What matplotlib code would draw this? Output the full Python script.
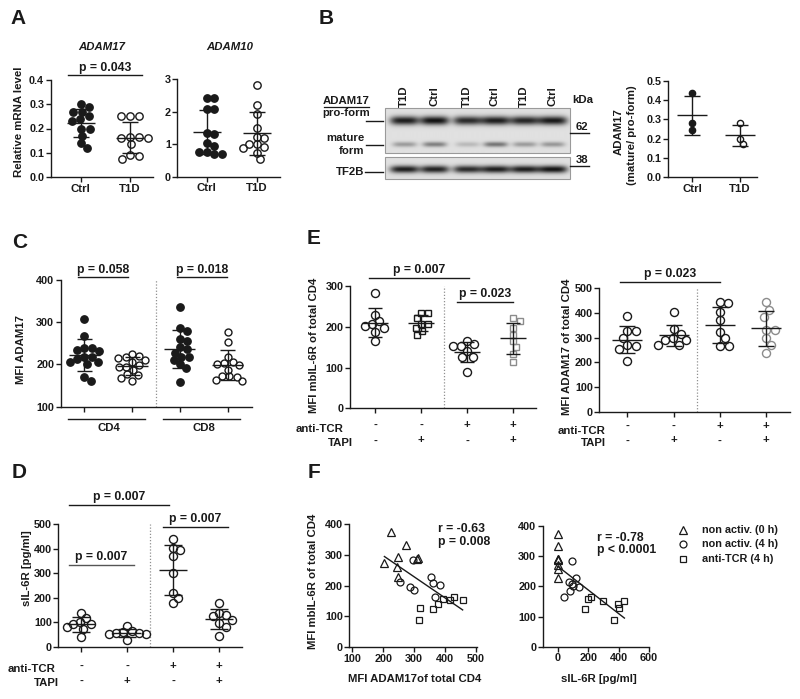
import numpy as np
import matplotlib
matplotlib.use('Agg')
import matplotlib.pyplot as plt
from matplotlib.patches import Rectangle
from matplotlib.transforms import blended_transform_factory as btf

# ---------------- data ----------------
groups_ct = ['Ctrl', 'T1D']
# A: relative mRNA
a17_ctrl = [0.30, 0.29, 0.27, 0.27, 0.25, 0.24, 0.23, 0.20, 0.20, 0.17, 0.14, 0.12]
a17_t1d = [0.25, 0.25, 0.25, 0.165, 0.165, 0.16, 0.16, 0.135, 0.09, 0.085, 0.075]
a10_ctrl = [2.42, 2.42, 2.07, 2.09, 1.30, 1.33, 1.04, 0.95, 0.76, 0.70, 0.70, 0.76]
a10_t1d = [2.81, 2.20, 1.94, 1.51, 1.20, 1.23, 1.00, 1.00, 0.90, 0.87, 0.74, 0.53]
# B: mature / pro-form ratio
b_ctrl = [0.435, 0.245, 0.283]
b_t1d = [0.279, 0.200, 0.172]
blot_lanes = ['T1D', 'Ctrl', 'T1D', 'Ctrl', 'T1D', 'Ctrl']
pro_int = [0.90, 0.95, 0.84, 0.90, 0.86, 0.92]
mature_int = [0.32, 0.45, 0.18, 0.50, 0.32, 0.34]
tf2b_int = [0.90, 0.88, 0.84, 0.90, 0.90, 0.95]
# C: MFI ADAM17
c_cd4_ctrl = [308, 268, 240, 234, 233, 240, 217, 212, 217, 206, 201, 206, 161, 170]
c_cd4_t1d = [225, 220, 218, 215, 211, 205, 198, 195, 187, 177, 175, 167, 160, 195]
c_cd8_ctrl = [337, 280, 286, 256, 260, 236, 242, 228, 217, 217, 200, 211, 191, 158]
c_cd8_t1d = [278, 253, 217, 201, 198, 203, 205, 188, 172, 163, 170, 172, 160]
# paired samples (n=8): non activ 0 h, non activ 4 h, anti-TCR 4 h
tri_mbil = [373, 333, 292, 290, 288, 272, 259, 228]
tri_adam17 = [227, 274, 248, 312, 310, 204, 245, 247]
tri_sil = [0, 0, 0, 0, 0, 0, 0, 0]
circ_mbil = [284, 229, 213, 208, 202, 197, 186, 164]
circ_adam17 = [296, 356, 254, 361, 385, 288, 299, 369]
circ_sil = [93, 116, 71, 93, 100, 138, 82, 38]
sq_mbil = [158, 164, 125, 152, 140, 127, 152, 88]
sq_adam17 = [394, 430, 361, 417, 377, 320, 458, 315]
sq_sil = [198, 220, 178, 300, 393, 404, 438, 371]
# D: sIL-6R (4 conditions)
d_tapi = [86, 65, 60, 55, 55, 52, 50, 28]
d_tcr_tapi = [177, 136, 129, 127, 110, 95, 82, 45]
# E: mbIL-6R and ADAM17 of total CD4
e_mbil_tapi = [233, 233, 221, 208, 208, 197, 190, 180]
e_mbil_tcr_tapi = [221, 215, 196, 180, 164, 150, 133, 114]
e_adam17_ctrl = [389, 328, 328, 300, 266, 270, 255, 204]
e_adam17_tapi = [405, 315, 334, 290, 297, 290, 270, 272]
e_adam17_tcr = [443, 439, 405, 372, 324, 297, 266, 266]
e_adam17_tcr_tapi = [443, 412, 385, 331, 330, 297, 270, 239]
anti_tcr = ['-', '-', '+', '+']
tapi = ['-', '+', '-', '+']
legend_labels = ['non activ. (0 h)', 'non activ. (4 h)', 'anti-TCR (4 h)']

# ---------------- style ----------------
plt.rcParams['font.family'] = ['Liberation Sans', 'DejaVu Sans']
plt.rcParams['font.weight'] = 'bold'
W, H = 800, 699
K = '#1a1a1a'
GREY = '#8c8c8c'
FS_T = 7.8
FS_L = 8.2
FS_P = 8.8

fig = plt.figure(figsize=(W / 100, H / 100), dpi=100)
ov = fig.add_axes([0, 0, 1, 1], zorder=20)
ov.axis('off')
ov.patch.set_alpha(0)

def T(x, y, s, **kw):
    kw.setdefault('ha', 'center')
    kw.setdefault('va', 'center')
    kw.setdefault('fontsize', FS_L)
    kw.setdefault('color', K)
    ov.text(x, y, s, **kw)

INFO = {}

def mk(left, right, top, bottom, ylim, x0=None, dx=None, xlim=None):
    if xlim is None:
        xlim = ((left - x0) / dx, (right - x0) / dx)
    ax = fig.add_axes([left / W, 1 - bottom / H, (right - left) / W, (bottom - top) / H])
    ax.set_xlim(*xlim)
    ax.set_ylim(*ylim)
    ax.patch.set_alpha(0)
    for s in ('top', 'right'):
        ax.spines[s].set_visible(False)
    for s in ('left', 'bottom'):
        ax.spines[s].set_color(K)
        ax.spines[s].set_linewidth(1.0)
    ax.tick_params(direction='out', length=3.5, width=1.0, color=K,
                   labelsize=FS_T, pad=1.2, labelcolor=K)
    INFO[ax] = dict(xpx=(right - left) / (xlim[1] - xlim[0]),
                    ypx=(bottom - top) / (ylim[1] - ylim[0]),
                    ptr=btf(ax.transData, ov.transData))
    return ax

def swarm(vals, ypx, dh, dv):
    """Place points so that no two are closer than an ellipse (dh wide, dv tall)."""
    vals = np.asarray(vals, float)
    order = np.argsort(-vals, kind='stable')
    placed = []
    offs = np.zeros(len(vals))

    def ok(c, y):
        return all(((c - px) / dh) ** 2 + ((y - py) / dv) ** 2 >= 1 - 1e-6 for px, py in placed)

    for i in order:
        y = vals[i] * ypx
        cands = [0.0]
        for (px, py) in placed:
            dy = abs(py - y)
            if dy < dv:
                dxx = dh * np.sqrt(1 - (dy / dv) ** 2)
                cands += [px + dxx, px - dxx]
        cands.sort(key=lambda c: (abs(c), -c))
        c = 0.0
        for c in cands:
            if ok(c, y):
                break
        placed.append((c, y))
        offs[i] = c
    return offs

def group(ax, pos, vals, marker='o', filled=False, ms=5.4, mc=K, mw=28, cw=16, gh=1.05, gv=1.0):
    inf = INFO[ax]
    vals = np.asarray(vals, float)
    dpx = ms * 100 / 72
    offs = swarm(vals, inf['ypx'], dpx * gh, dpx * gv)
    x = pos + offs / inf['xpx']
    ax.plot(x, vals, ls='none', marker=marker, ms=ms, mec=mc,
            mfc=mc if filled else 'none', mew=1.0, clip_on=False, zorder=3)
    m = vals.mean()
    s = vals.std(ddof=1)
    hw = mw / 2 / inf['xpx']
    hc = cw / 2 / inf['xpx']
    kw = dict(color=K, lw=1.0, clip_on=False, zorder=4, solid_capstyle='butt')
    ax.plot([pos - hw, pos + hw], [m, m], **kw)
    ax.plot([pos, pos], [m - s, m + s], **kw)
    ax.plot([pos - hc, pos + hc], [m + s, m + s], **kw)
    ax.plot([pos - hc, pos + hc], [m - s, m - s], **kw)

def pbar(ax, x1, x2, ly, ty, txt, color=K):
    tr = INFO[ax]['ptr']
    ax.plot([x1, x2], [ly, ly], transform=tr, color=color, lw=1.0, clip_on=False)
    ax.text((x1 + x2) / 2, ty, txt, transform=tr, ha='center', va='center',
            fontsize=FS_P, color=K, clip_on=False)

def divider(ax):
    ax.axvline(1.5, color='#909090', lw=0.9, ls=(0, (1, 1.5)), zorder=1)

def sign_rows(ax, rows):
    tr = INFO[ax]['ptr']
    for lab, vals, yl, ys, lx in rows:
        T(lx, yl, lab, ha='right')
        for i, v in enumerate(vals):
            ax.text(i, ys, v, transform=tr, ha='center', va='center',
                    fontsize=FS_L, color=K, clip_on=False)

def yticks(ax, vals, fmt):
    ax.set_yticks(vals)
    ax.set_yticklabels([fmt.format(v) for v in vals])

# ---------------- panel A ----------------
ax = mk(50.7, 153, 80, 177, (0, 0.4), x0=80.7, dx=49.3)
yticks(ax, np.arange(0, 0.41, 0.1), '{:.1f}')
ax.set_xticks([0, 1]); ax.set_xticklabels(groups_ct, fontsize=FS_L)
group(ax, 0, a17_ctrl, filled=True, ms=5.3, gh=1.2)
group(ax, 1, a17_t1d, ms=5.3, gh=1.2)
pbar(ax, -0.25, 1.25, 75, 67.5, 'p = 0.043')
T(101.7, 46.7, 'ADAM17', style='italic')

ax = mk(177.3, 280, 79, 176.7, (0, 3), x0=206.7, dx=50)
yticks(ax, [0, 1, 2, 3], '{:d}')
ax.set_xticks([0, 1]); ax.set_xticklabels(groups_ct, fontsize=FS_L)
group(ax, 0, a10_ctrl, filled=True, ms=5.3)
group(ax, 1, a10_t1d, ms=5.3)
T(230, 46.7, 'ADAM10', style='italic')
T(19.3, 122, 'Relative mRNA level', rotation=90)

# ---------------- panel B ----------------
ax = mk(668.3, 757, 80.7, 177.3, (0, 0.5), x0=692.3, dx=47.7)
yticks(ax, np.arange(0, 0.51, 0.1), '{:.1f}')
ax.set_xticks([0, 1]); ax.set_xticklabels(groups_ct, fontsize=FS_L)
group(ax, 0, b_ctrl, filled=True, ms=4.5, mw=30, cw=16)
group(ax, 1, b_t1d, ms=4.5, mw=30, cw=16)
T(618.3, 132, 'ADAM17', rotation=90)
T(632, 135, '(mature/ pro-form)', rotation=90)

# western blot
lane_x = [404, 434, 467, 495, 524, 552]
def blot(x0, x1, y0, y1, bands):
    xs = np.linspace(x0, x1, int((x1 - x0) * 3))
    ys = np.linspace(y0, y1, int((y1 - y0) * 3))
    X, Y = np.meshgrid(xs, ys)
    dark = np.zeros_like(X)
    for cy, hy, wx, ints in bands:
        for cx, a in zip(lane_x, ints):
            dark += a * np.exp(-np.abs((X - cx) / wx) ** 4) * np.exp(-((Y - cy) / hy) ** 2)
    img = np.clip(0.88 - 0.85 * dark, 0, 1)
    ov.imshow(img, extent=(x0, x1, y1, y0), cmap='gray', vmin=0, vmax=1,
              aspect='auto', interpolation='bilinear', origin='upper')
    ov.add_patch(Rectangle((x0, y0), x1 - x0, y1 - y0, fill=False, ec='#9a9a9a', lw=0.8))

blot(384.5, 570, 108, 153, [(120.5, 4.4, 14.5, pro_int), (144.5, 2.6, 12, mature_int)])
blot(384.5, 570, 157, 179, [(169.3, 3.8, 14.5, tf2b_int)])
for lx, lab in zip(lane_x, blot_lanes):
    T(lx, 96.5, lab, rotation=90)
T(583, 100, 'kDa')
T(346.5, 101, 'ADAM17')
ov.plot([324, 369], [107.3, 107.3], color=K, lw=0.9)
T(346.5, 113.3, 'pro-form')
T(364.5, 138.3, 'mature', ha='right')
T(364.5, 150.7, 'form', ha='right')
T(364.5, 171.7, 'TF2B', ha='right')
for yy, x0_ in [(120.7, 366), (145, 366), (171.7, 365)]:
    ov.plot([x0_, 383], [yy, yy], color=K, lw=1.0)
T(582, 127.5, '62')
T(582, 160, '38')
ov.plot([570, 589], [133.3, 133.3], color=K, lw=1.0)
ov.plot([570, 589], [165.7, 165.7], color=K, lw=1.0)

# ---------------- panel C ----------------
ax = mk(60.7, 251.7, 280, 406.7, (100, 400), x0=84.3, dx=47.8)
yticks(ax, [100, 200, 300, 400], '{:d}')
ax.set_xticks([0, 1, 2, 3]); ax.set_xticklabels([])
divider(ax)
group(ax, 0, c_cd4_ctrl, filled=True, ms=5.3, mw=31, cw=15)
group(ax, 1, c_cd4_t1d, ms=5.0, mw=31, cw=15)
group(ax, 2, c_cd8_ctrl, filled=True, ms=5.3, mw=31, cw=15)
group(ax, 3, c_cd8_t1d, ms=5.0, mw=31, cw=15)
pbar(ax, -0.13, 0.92, 277, 270, 'p = 0.058')
pbar(ax, 1.93, 2.99, 277, 270, 'p = 0.018')
tr = INFO[ax]['ptr']
for a_, b_, lab in [(-0.34, 1.27, 'CD4'), (1.65, 3.26, 'CD8')]:
    ax.plot([a_, b_], [419, 419], transform=tr, color=K, lw=1.0, clip_on=False)
    ax.text((a_ + b_) / 2 + 0.05, 428, lab, transform=tr, ha='center', va='center',
            fontsize=FS_L, color=K, clip_on=False)
T(20.7, 349, 'MFI ADAM17', rotation=90)

# ---------------- panel D ----------------
ax = mk(58.3, 241.7, 524.3, 646.7, (0, 500), x0=81, dx=46.1)
yticks(ax, [0, 100, 200, 300, 400, 500], '{:d}')
ax.set_xticks([0, 1, 2, 3]); ax.set_xticklabels([])
divider(ax)
for i, v in enumerate([circ_sil, d_tapi, sq_sil, d_tcr_tapi]):
    group(ax, i, v, ms=5.8, mw=28, cw=18, gh=0.85, gv=1.0)
pbar(ax, -0.26, 1.91, 505, 497, 'p = 0.007')
pbar(ax, 1.78, 3.19, 527, 519, 'p = 0.007')
pbar(ax, -0.26, 1.15, 565, 557, 'p = 0.007', color='#555555')
sign_rows(ax, [('anti-TCR', anti_tcr, 669.3, 666, 56),
               ('TAPI', tapi, 682.7, 681, 59)])
T(26.7, 568, 'sIL-6R [pg/ml]', rotation=90)

# ---------------- panel E ----------------
ax = mk(350, 536, 286, 408.3, (0, 300), x0=375, dx=46.1)
yticks(ax, [0, 100, 200, 300], '{:d}')
ax.set_xticks([0, 1, 2, 3]); ax.set_xticklabels([])
divider(ax)
group(ax, 0, circ_mbil, ms=5.8, mw=26, cw=14, gh=0.95)
group(ax, 1, e_mbil_tapi, marker='s', ms=4.6, mw=26, cw=14, gh=1.1)
group(ax, 2, sq_mbil, ms=5.8, mw=26, cw=14, gh=0.95)
group(ax, 3, e_mbil_tcr_tapi, marker='s', ms=4.6, mc=GREY, mw=26, cw=14, gh=1.1)
pbar(ax, -0.13, 2.04, 278, 269.5, 'p = 0.007')
pbar(ax, 1.78, 2.99, 302, 294.5, 'p = 0.023')
sign_rows(ax, [('anti-TCR', anti_tcr, 429.5, 425, 343.5),
               ('TAPI', tapi, 443, 440.5, 353)])
T(314, 345, 'MFI mbIL-6R of total CD4', rotation=90)

ax = mk(599.3, 790, 288.3, 411.7, (0, 500), x0=627.3, dx=46.2)
yticks(ax, [0, 100, 200, 300, 400, 500], '{:d}')
ax.set_xticks([0, 1, 2, 3]); ax.set_xticklabels([])
divider(ax)
for i, v in enumerate([e_adam17_ctrl, e_adam17_tapi, e_adam17_tcr]):
    group(ax, i, v, ms=5.8, mw=30, cw=16, gh=1.1)
group(ax, 3, e_adam17_tcr_tapi, ms=5.8, mc=GREY, mw=30, cw=16, gh=1.1)
pbar(ax, -0.16, 2.0, 282.3, 274.5, 'p = 0.023')
sign_rows(ax, [('anti-TCR', anti_tcr, 431, 425.5, 605),
               ('TAPI', tapi, 443, 440.5, 606)])
T(566.7, 347, 'MFI ADAM17 of total CD4', rotation=90)

# ---------------- panel F ----------------
def fpanel(ax, xs_list, ys_list):
    specs = [('^', 5.6), ('o', 5.0), ('s', 4.8)]
    for (mk_, ms), xs, ys in zip(specs, xs_list, ys_list):
        ax.plot(xs, ys, ls='none', marker=mk_, ms=ms, mec=K, mfc='none', mew=0.9,
                clip_on=False, zorder=3)
    xa = np.concatenate([np.asarray(v, float) for v in xs_list])
    ya = np.concatenate([np.asarray(v, float) for v in ys_list])
    k, b = np.polyfit(xa, ya, 1)
    xx = np.array([xa.min(), xa.max()])
    ax.plot(xx, k * xx + b, color=K, lw=1.0, zorder=4)

ax = mk(349.3, 476.5, 524, 647.3, (0, 400), xlim=(90, 503))
yticks(ax, [0, 100, 200, 300, 400], '{:d}')
ax.set_xticks([100, 200, 300, 400, 500])
fpanel(ax, [tri_adam17, circ_adam17, sq_adam17], [tri_mbil, circ_mbil, sq_mbil])
T(437.7, 529.3, 'r = -0.63', ha='left', fontsize=FS_P)
T(437.7, 541.7, 'p = 0.008', ha='left', fontsize=FS_P)
T(415, 679, 'MFI ADAM17of total CD4')
T(313.3, 581, 'MFI mbIL-6R of total CD4', rotation=90)

ax = mk(542.7, 649, 526, 646.7, (0, 400), xlim=(-100, 600))
yticks(ax, [0, 100, 200, 300, 400], '{:d}')
ax.set_xticks([0, 200, 400, 600])
fpanel(ax, [tri_sil, circ_sil, sq_sil], [tri_mbil, circ_mbil, sq_mbil])
T(596.7, 537.7, 'r = -0.78', ha='left', fontsize=FS_P)
T(596.7, 550, 'p < 0.0001', ha='left', fontsize=FS_P)
T(599, 679, 'sIL-6R [pg/ml]')

for (mk_, ms), lab, yy in zip([('^', 5.6), ('o', 5.0), ('s', 4.8)], legend_labels, [530, 544.3, 559]):
    ov.plot([683], [yy], ls='none', marker=mk_, ms=ms, mec=K, mfc='none', mew=0.9)
    T(701.7, yy, lab, ha='left', fontsize=FS_T)

# panel letters
for lab, x, y in [('A', 10, 19), ('B', 319, 19), ('C', 12, 242), ('D', 12, 472),
                  ('E', 307, 238.5), ('F', 308, 472)]:
    T(x, y, lab, ha='left', fontsize=15)

ov.set_xlim(0, W)
ov.set_ylim(H, 0)
fig.savefig('out.png', dpi=100)
